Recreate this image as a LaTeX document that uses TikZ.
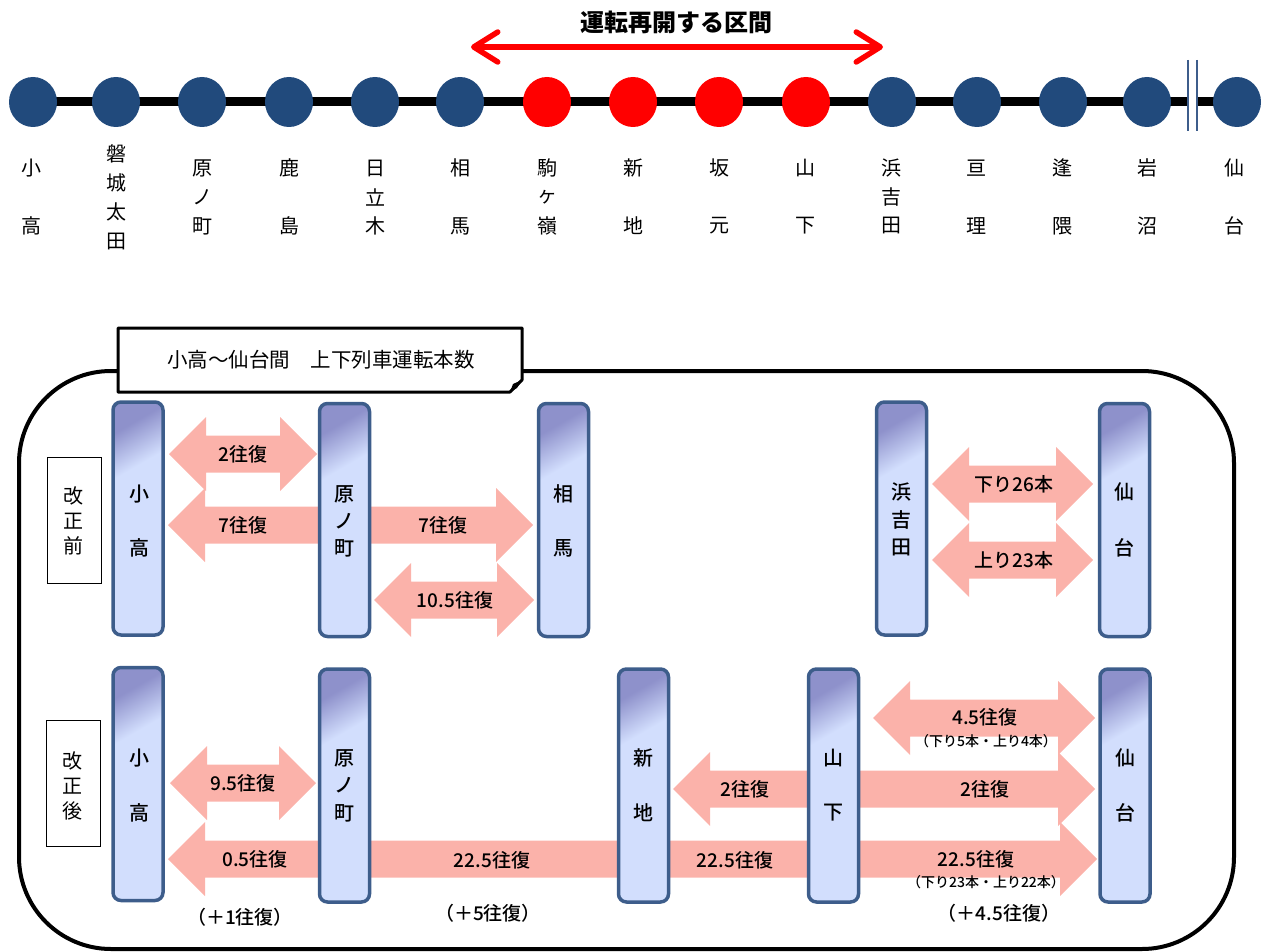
\documentclass[tikz,border=0pt]{standalone}
\usepackage{fontspec}
\setmainfont{Noto Sans CJK JP}
\IfFontExistsTF{Noto Sans CJK JP Medium}{\newfontfamily\medfont{Noto Sans CJK JP Medium}}{\newfontfamily\medfont{Noto Sans CJK JP}[FakeBold=1.2]}
\usetikzlibrary{arrows.meta,calc,shapes.geometric,backgrounds}
\definecolor{navy}{HTML}{214A7C}
\definecolor{redc}{HTML}{FF0000}
\definecolor{pinkc}{HTML}{FBB2AA}
\definecolor{barline}{HTML}{3D5D8B}
\definecolor{bardark}{HTML}{8E91CB}
\definecolor{barlight}{HTML}{D2DEFD}
\pgfdeclareverticalshading{barshade}{100bp}{color(0bp)=(barlight); color(25bp)=(barlight); color(64bp)=(barlight); color(76bp)=(bardark); color(100bp)=(bardark)}
\newcommand{\vtext}[6]{\foreach \ch [count=\k from 0] in {#6} {\node[#1] (#2-\k) at (#3,{#4+\k*#5}) {\ch};}}
\newcommand{\arrR}[3]{\fill[blk] (#1,{#3-18.5}) -- ({#2-37},{#3-18.5}) -- ({#2-37},{#3-37}) -- (#2,#3) -- ({#2-37},{#3+37}) -- ({#2-37},{#3+18.5}) -- (#1,{#3+18.5}) -- cycle;}
\newcommand{\arrL}[3]{\fill[blk] (#2,{#3-18.5}) -- ({#1+37},{#3-18.5}) -- ({#1+37},{#3-37}) -- (#1,#3) -- ({#1+37},{#3+37}) -- ({#1+37},{#3+18.5}) -- (#2,{#3+18.5}) -- cycle;}
\newcommand{\arrD}[3]{\fill[blk] ({#1+37},{#3-18.5}) -- ({#2-37},{#3-18.5}) -- ({#2-37},{#3-37}) -- (#2,#3) -- ({#2-37},{#3+37}) -- ({#2-37},{#3+18.5}) -- ({#1+37},{#3+18.5}) -- ({#1+37},{#3+37}) -- (#1,#3) -- ({#1+37},{#3-37}) -- cycle;}
\begin{document}
\begin{tikzpicture}[x=1pt,y=-1pt,
  stn/.style={ellipse,minimum width=48,minimum height=50,inner sep=0},
  slab/.style={font=\fontsize{20}{20}\selectfont,inner sep=0},
  blab/.style={font=\medfont\fontsize{20}{20}\selectfont,inner sep=0},
  sblab/.style={font=\fontsize{20}{20}\selectfont,inner sep=0},
  bar/.style={draw=barline,line width=3.5,rounded corners=8,minimum width=50,minimum height=233,shading=barshade,shading angle=30},
  blk/.style={fill=pinkc},
  alab/.style={font=\medfont\fontsize{19}{19}\selectfont,inner sep=0},
  small/.style={font=\medfont\fontsize{14}{14}\selectfont,inner sep=0},
  note/.style={font=\medfont\fontsize{19}{19}\selectfont,inner sep=0},
  sidebox/.style={draw=black,line width=1,minimum width=54,minimum height=126,inner sep=0}]
\useasboundingbox (0,0) rectangle (1266,952);
% ---------- top: line map ----------
\node[font=\fontsize{24}{24}\selectfont\bfseries,inner sep=0] (title) at (676,22) {運転再開する区間};
\coordinate (ra) at (471,47);
\coordinate (rb) at (883,47);
\draw[redc,line width=5.5,line cap=round,{Straight Barb[length=24pt,width=30pt,line cap=round,line join=round]}-{Straight Barb[length=24pt,width=30pt,line cap=round,line join=round]}] (ra) -- (rb);
\foreach \x/\c [count=\i] in {33/navy,116/navy,202/navy,289/navy,375/navy,460/navy,547/redc,633/redc,719/redc,806/redc,892/navy,977/navy,1063/navy,1147/navy,1237/navy}
  \node[stn,fill=\c] (s\i) at (\x,102) {};
\begin{scope}[on background layer]
  \draw[line width=9] ($(s1.center)+(-20,0)$) -- ($(s15.center)+(20,0)$);
\end{scope}
\fill[white] (1187,60) rectangle (1198,131);
\draw[barline,line width=1.1] (1188,60) -- (1188,131) (1197,60) -- (1197,131);
\vtext{slab}{t1}{31}{168}{58}{小,高}
\vtext{slab}{t2}{116}{154}{29}{磐,城,太,田}
\vtext{slab}{t3}{202}{168}{29}{原,ノ,町}
\vtext{slab}{t4}{289}{168}{58}{鹿,島}
\vtext{slab}{t5}{375}{168}{29}{日,立,木}
\vtext{slab}{t6}{460}{168}{58}{相,馬}
\vtext{slab}{t7}{547}{168}{29}{駒,ヶ,嶺}
\vtext{slab}{t8}{633}{168}{58}{新,地}
\vtext{slab}{t9}{719}{168}{58}{坂,元}
\vtext{slab}{t10}{805}{168}{58}{山,下}
\vtext{slab}{t11}{891}{168}{29}{浜,吉,田}
\vtext{slab}{t12}{976}{168}{58}{亘,理}
\vtext{slab}{t13}{1062}{168}{58}{逢,隈}
\vtext{slab}{t14}{1147}{168}{58}{岩,沼}
\vtext{slab}{t15}{1234}{168}{58}{仙,台}
% ---------- bottom frame ----------
\draw[line width=4,rounded corners=92] (19,371) rectangle (1234,949);
\draw[line width=3,fill=white,line join=round] (118,328) -- (522,328) -- (522,380) -- (510,392) -- (118,392) -- cycle;
\fill (510,392) -- (513,384) -- (522,380) -- (517,388) -- cycle;
\node[font=\fontsize{20.5}{20.5}\selectfont,inner sep=0] (hdr) at (321,360) {小高～仙台間　上下列車運転本数};
\node[sidebox] (before) at (74,520) {};
\vtext{sblab}{bf}{73}{496}{25}{改,正,前}
\node[sidebox] (after) at (73,783.5) {};
\vtext{sblab}{af}{72}{761}{25}{改,正,後}
% ---------- arrows row 1 ----------
\arrD{169}{317}{454}
\arrL{168}{330}{525}
\arrR{360}{533}{525}
\arrD{374}{534}{600}
\arrD{932}{1093}{484}
\arrD{932}{1093}{560}
% ---------- arrows row 2 ----------
\arrD{873}{1095}{718}
\arrD{170}{316}{783}
\arrL{673}{820}{789}
\arrR{850}{1095}{789}
\arrL{168}{330}{859}
\arrR{360}{1097}{859}
% ---------- bars ----------
\node[bar] (kod1) at (138,518.5) {};
\node[bar] (har1) at (344.5,520) {};
\node[bar] (som1) at (563.5,520) {};
\node[bar] (ham1) at (901.5,518.5) {};
\node[bar] (sen1) at (1124.5,520) {};
\node[bar] (kod2) at (138,784) {};
\node[bar] (har2) at (344.5,785.5) {};
\node[bar] (shi2) at (643.5,785.5) {};
\node[bar] (yam2) at (833.5,785.5) {};
\node[bar] (sen2) at (1125,785.5) {};
\vtext{blab}{k1}{139}{494}{54}{小,高}
\vtext{blab}{h1}{344.5}{494}{27}{原,ノ,町}
\vtext{blab}{m1}{563.5}{494}{54}{相,馬}
\vtext{blab}{y1}{901.5}{492}{27.5}{浜,吉,田}
\vtext{blab}{n1}{1124.5}{492}{56}{仙,台}
\vtext{blab}{k2}{139}{758}{55}{小,高}
\vtext{blab}{h2}{344.5}{758}{27.5}{原,ノ,町}
\vtext{blab}{s2}{643.5}{758}{55}{新,地}
\vtext{blab}{y2}{833.5}{758}{55}{山,下}
\vtext{blab}{n2}{1125}{758}{55}{仙,台}
% ---------- arrow labels ----------
\node[alab] (a1) at (243,454) {2往復};
\node[alab] (a2) at (243,525) {7往復};
\node[alab] (a3) at (443,525) {7往復};
\node[alab] (a4) at (455,600) {10.5往復};
\node[alab] (a5) at (1014,484) {下り26本};
\node[alab] (a6) at (1014,560) {上り23本};
\node[alab] (b1) at (243,783) {9.5往復};
\node[alab] (b2) at (255,859) {0.5往復};
\node[alab] (b3) at (492,860) {22.5往復};
\node[alab] (b4) at (735,860) {22.5往復};
\node[alab] (b5) at (976,859) {22.5往復};
\node[small] (b5s) at (986,882) {（下り23本・上り22本）};
\node[alab] (b6) at (745,789) {2往復};
\node[alab] (b7) at (985,789) {2往復};
\node[alab] (b8) at (985,717) {4.5往復};
\node[small] (b8s) at (986,741) {（下り5本・上り4本）};
\node[note] (c1) at (240,917) {（＋1往復）};
\node[note] (c2) at (488,913) {（＋5往復）};
\node[note] (c3) at (999,913) {（＋4.5往復）};
\end{tikzpicture}
\end{document}
